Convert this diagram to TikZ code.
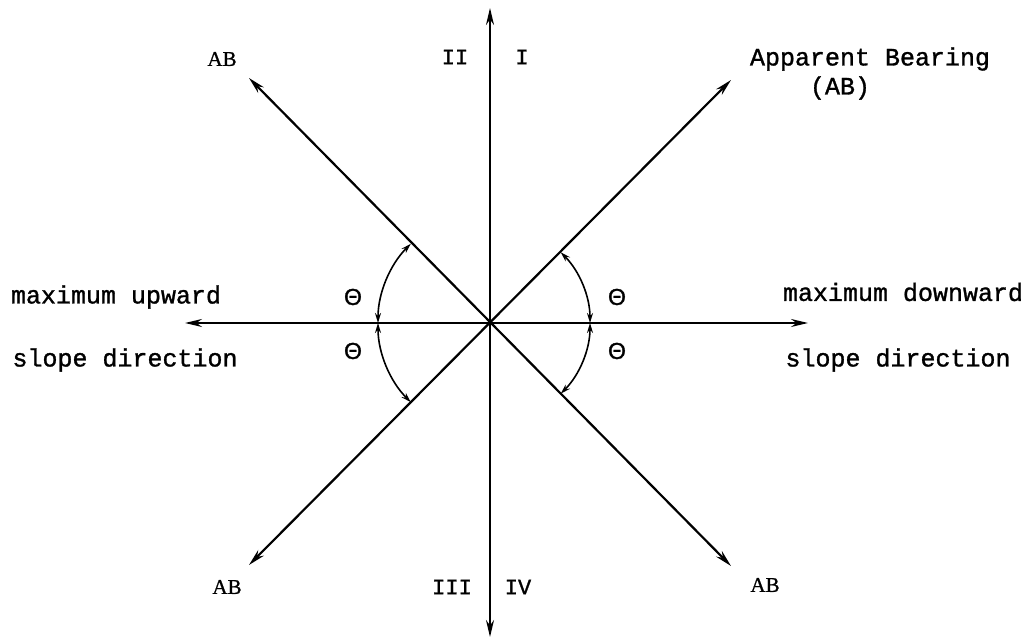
\documentclass[tikz,border=0pt]{standalone}
\usepackage{fontspec}
\setmainfont{Liberation Serif}
\newfontfamily\twfont[FakeBold=1.2]{Liberation Mono}
\newfontfamily\thfont[FakeBold=1.5]{Liberation Sans}
\newfontfamily\abfont[FakeBold=0.8]{Liberation Serif}
\usetikzlibrary{arrows.meta,calc}
\begin{document}
\begin{tikzpicture}[x=1pt,y=1pt,
  axis/.style={line width=2.2pt,{Stealth[length=17pt,width=8pt]}-{Stealth[length=17pt,width=8pt]}},
  diag/.style={line width=2.2pt,{Stealth[length=17pt,width=8pt]}-{Stealth[length=17pt,width=8pt]}},
  ang/.style={line width=1.6pt,{Stealth[length=10pt,width=6pt]}-{Stealth[length=10pt,width=6pt]}},
  tw/.style={font=\twfont\fontsize{25}{30}\selectfont,inner sep=0pt},
  num/.style={font=\twfont\fontsize{22}{24}\selectfont,inner sep=0pt},
  ab/.style={font=\abfont\fontsize{21}{24}\selectfont,inner sep=0pt},
  th/.style={font=\thfont\fontsize{23}{26}\selectfont,inner sep=0pt}]
\useasboundingbox (0,0) rectangle (1032,639);
\fill[white] (0,0) rectangle (1032,639);
\coordinate (O) at (490,316);
\coordinate (N) at (490,631);
\coordinate (S) at (490,2);
\coordinate (W) at (185,316);
\coordinate (E) at (808,316);
\coordinate (NE) at (731,559);
\coordinate (NW) at (249,561);
\coordinate (SW) at (249,74);
\coordinate (SE) at (731,73);
% axes
\draw[axis] (S) -- (N);
\draw[axis] (W) -- (E);
\draw[diag] (SW) -- (NE);
\draw[diag] (SE) -- (NW);
% angle arcs
\draw[ang] ($(O)+(135:112)$) arc[start angle=135,end angle=180,radius=112];
\draw[ang] ($(O)+(180:112)$) arc[start angle=180,end angle=225,radius=112];
\draw[ang] ($(O)+(45:100)$) arc[start angle=45,end angle=0,radius=100];
\draw[ang] ($(O)+(0:100)$) arc[start angle=0,end angle=-45,radius=100];
% theta labels
\node[th] (t1) at (353,342) {Θ};
\node[th] (t2) at (353,288) {Θ};
\node[th] (t3) at (617,342) {Θ};
\node[th] (t4) at (617,288) {Θ};
% quadrant numerals
\node[num] (q2) at (455,582) {II};
\node[num] (q1) at (522,582) {I};
\node[num] (q3) at (452,52) {III};
\node[num] (q4) at (518,52) {IV};
% AB labels
\node[ab] (ab1) at (222,580) {AB};
\node[ab] (ab2) at (227,52) {AB};
\node[ab] (ab3) at (765,54) {AB};
\node[tw] (app) at (870,580) {Apparent Bearing};
\node[tw] (app2) at (840,551) {(AB)};
% direction labels
\node[tw] (mu) at (116,342) {maximum upward};
\node[tw] (sl) at (125,279) {slope direction};
\node[tw] (md) at (903,347) {maximum downward};
\node[tw] (sr) at (898,279) {slope direction};
\end{tikzpicture}
\end{document}
